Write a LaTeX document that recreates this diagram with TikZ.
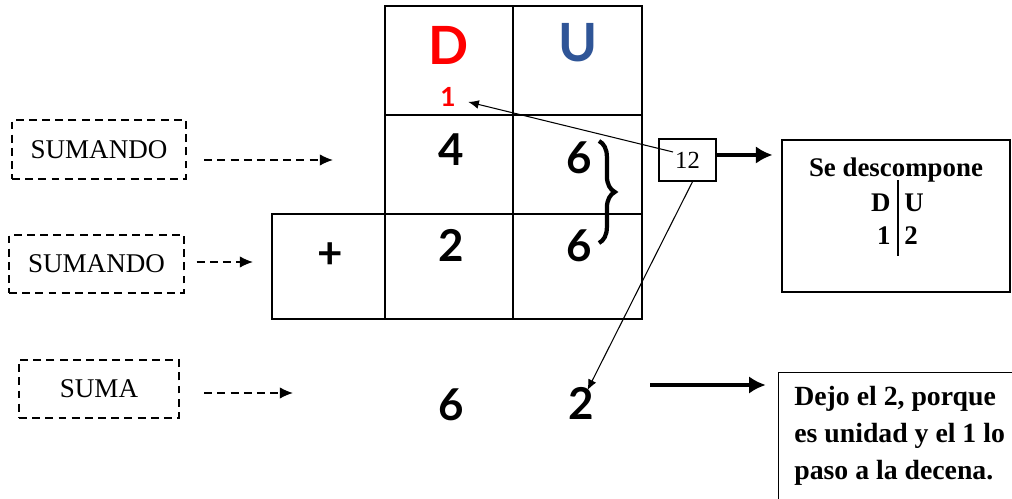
\documentclass[tikz,border=0pt]{standalone}
\usepackage{fontspec}
\setmainfont{Liberation Serif}
\newfontfamily\kidfont{Lato}
\usetikzlibrary{arrows.meta, positioning, calc, decorations.pathreplacing}
\definecolor{dred}{RGB}{255,0,0}
\definecolor{ublue}{RGB}{47,85,151}
\tikzset{
    box_dashed/.style={rectangle, draw, dash pattern=on 4.5pt off 3pt, line width=0.8pt, font=\fontsize{15.4}{17}\selectfont},
    box_plain/.style={rectangle, draw, line width=0.8pt},
    digit/.style={font=\kidfont\bfseries\fontsize{25}{28}\selectfont},
    letter/.style={font=\kidfont\bfseries\fontsize{30}{34}\selectfont},
    info/.style={font=\bfseries\fontsize{15.3}{17}\selectfont, inner sep=0pt},
    arrow/.style={-{Latex[length=6pt,width=5pt]}, line width=0.6pt},
    arrow_dashed/.style={-{Latex[length=7.5pt,width=6.5pt]}, dash pattern=on 4.5pt off 3pt, line width=0.8pt},
    arrow_thick/.style={-{Latex[length=9.5pt,width=10pt]}, line width=2.5pt}
}
\begin{document}
\begin{tikzpicture}[x=0.02cm, y=-0.02cm]
    \useasboundingbox (0,0) rectangle (1012,499);
    \clip (0,0) rectangle (1012,499);

    % table
    \draw[line width=0.8pt] (385,6) rectangle (642,214);
    \draw[line width=0.8pt] (272,214) rectangle (642,319);
    \draw[line width=0.8pt] (513,6) -- (513,319);
    \draw[line width=0.8pt] (385,115) -- (642,115);
    \draw[line width=0.8pt] (385,214) -- (385,319);

    \node (dhead) [letter, text=dred] at (449,45) {D};
    \node (uhead) [letter, text=ublue] at (578,43) {U};
    \node (carry) [font=\kidfont\bfseries\fontsize{15}{16}\selectfont, text=dred, inner sep=7pt] at (448,97) {1};
    \node (dtop) [digit] at (451,150) {4};
    \node (utop) [digit] at (579,158) {6};
    \node (plus) [digit] at (330,256) {+};
    \node (dbot) [digit] at (451,245) {2};
    \node (ubot) [digit] at (579,246) {6};
    \node (dres) [digit] at (451,405) {6};
    \node (ures) [digit] at (581,403) {2};

    % brace
    \draw[line width=2.4pt, decorate, decoration={brace, amplitude=9pt}] (599,141) -- (599,243);

    % labels on the left
    \node (sum1) [box_dashed, minimum width=3.48cm, minimum height=1.18cm] at (99,149.5) {SUMANDO};
    \node (sum2) [box_dashed, minimum width=3.5cm, minimum height=1.16cm] at (96.5,264) {SUMANDO};
    \node (suma) [box_dashed, minimum width=3.2cm, minimum height=1.16cm] at (99,389) {SUMA};
    \coordinate (sum1tip) at (333,160);
    \coordinate (sum2tip) at (253,262);
    \coordinate (sumatip) at (293,393);
    \draw[arrow_dashed, shorten <=10pt] (sum1.east |- sum1tip) -- (sum1tip);
    \draw[arrow_dashed, shorten <=6.8pt] (sum2.east |- sum2tip) -- (sum2tip);
    \draw[arrow_dashed, shorten <=14pt] (suma.east |- sumatip) -- (sumatip);

    % right side
    \node (twelve) [box_plain, minimum width=1.14cm, minimum height=0.84cm, font=\fontsize{14}{16}\selectfont] at (687.5,160) {12};
    \node (descomp) [box_plain, minimum width=4.56cm, minimum height=3.04cm] at (896,216) {};
    \node (dejo) [box_plain, minimum width=5cm, minimum height=3cm, anchor=north west] at (778,372) {};

    \node (title) [info, anchor=base] at (896,177) {Se descompone};
    \node (dl) [info, anchor=base east] at (891,212) {D};
    \node (ul) [info, anchor=base west] at (904,212) {U};
    \node (dv) [info, anchor=base east] at (891,245) {1};
    \node (uv) [info, anchor=base west] at (904,245) {2};
    \draw[line width=0.6pt] (898,180) -- (898,256);

    \node (why) [font=\bfseries\fontsize{15.8}{21}\selectfont, inner sep=0pt, align=left, anchor=north west] at (794,386) {Dejo el 2, porque\\es unidad y el 1 lo\\paso a la decena.};

    \draw[arrow] ($(twelve.center)+(-14.5,-8)$) -- (carry);
    \draw[arrow, shorten >=-6pt] ($(twelve.south)+(5,0)$) -- (ures);
    \coordinate (twelveout) at ($(twelve.east)+(0,-5)$);
    \draw[arrow_thick, shorten >=5pt] (twelveout) -- (twelveout -| descomp.west);
    \coordinate (resstart) at (650,385);
    \draw[arrow_thick, shorten >=7pt] (resstart) -- (resstart -| dejo.west);
\end{tikzpicture}
\end{document}
